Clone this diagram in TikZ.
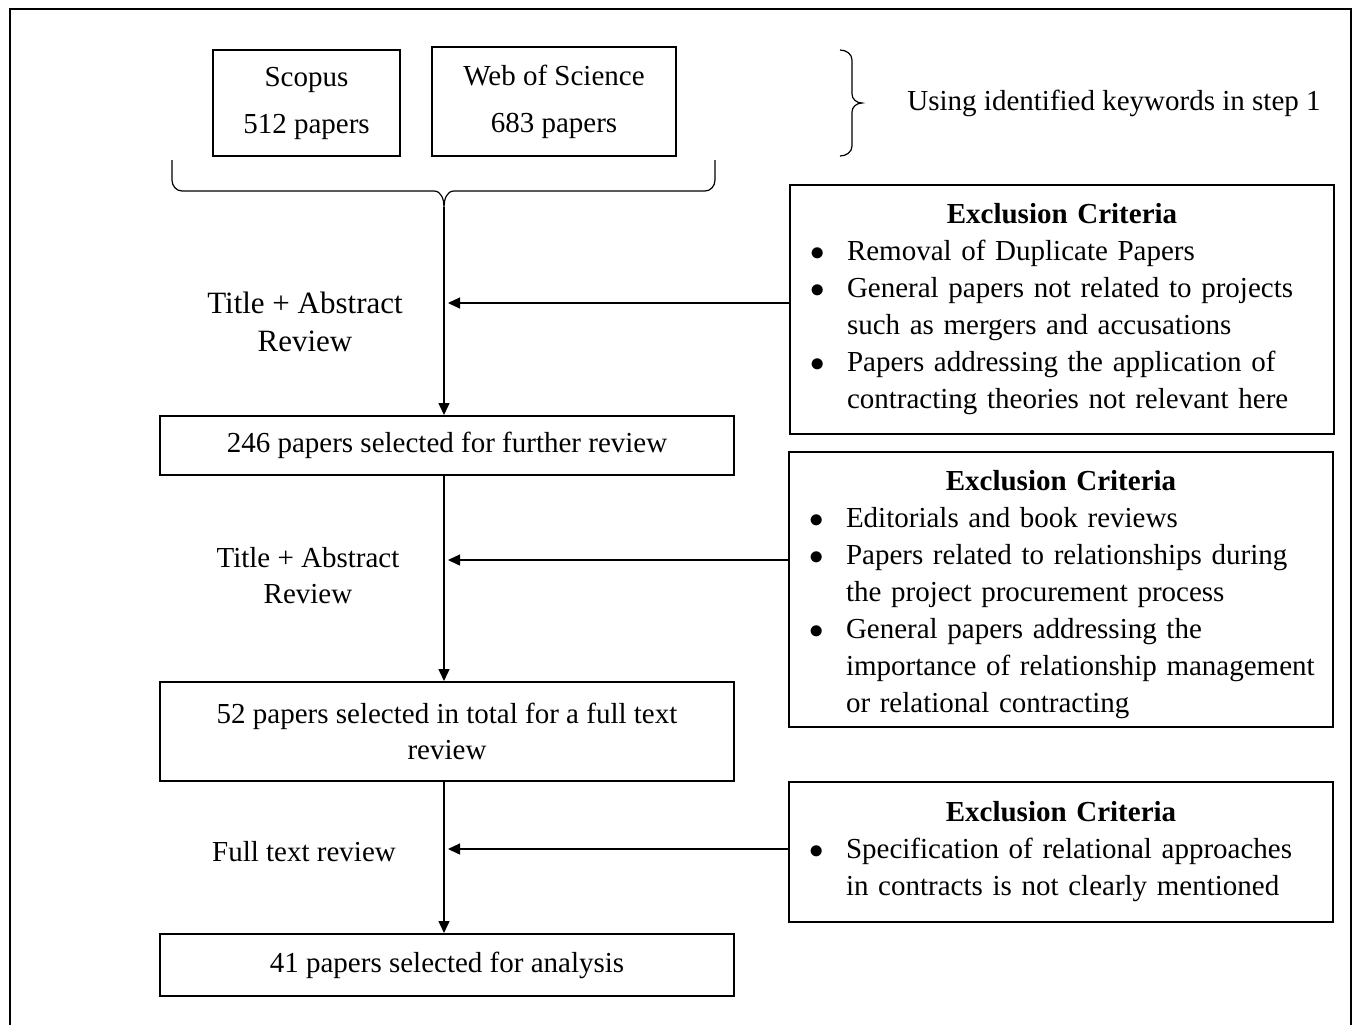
\documentclass[tikz,border=0pt]{standalone}
\usepackage{fontspec}
\setmainfont{Liberation Serif}
\usetikzlibrary{arrows.meta}

\newcommand{\crithead}{\centering\textbf{Exclusion Criteria}\par\raggedright}
\newcommand{\critem}[1]{\par\noindent\hangindent=24.5pt\hangafter=1\makebox[20pt][c]{$\bullet$}\hspace{4.5pt}#1}

\begin{document}
\begin{tikzpicture}[x=0.5pt, y=-0.5pt,
    box/.style={draw, line width=1pt, align=center, inner sep=0pt, font=\fontsize{14.5}{18}\selectfont},
    srcbox/.style={box, font=\fontsize{14.5}{23.5}\selectfont},
    critbox/.style={draw, line width=1pt, inner xsep=4pt, inner ysep=0pt, text width=264pt, minimum width=272pt, font=\fontsize{14.5}{18.5}\selectfont},
    lbl/.style={align=center, inner sep=0pt, font=\fontsize{14.5}{18}\selectfont},
    arr/.style={line width=0.7pt, -{Triangle[length=6pt, width=5.5pt]}},
    brc/.style={line width=0.6pt}]
    \useasboundingbox (0,0) rectangle (1356,1025);
    % ---- outer frame (open at the bottom) ----
    \draw[line width=1.4pt] (10,1025) -- (10,9) -- (1351,9) -- (1351,1025);
    % ---- databases ----
    \node[srcbox, minimum width=93.5pt, minimum height=53pt] (scopus) at (306.5,103) {Scopus\\512 papers};
    \node[srcbox, minimum width=122pt, minimum height=54.5pt] (wos) at (554,101.5) {Web of Science\\683 papers};
    \draw[brc] (840,50) to[out=0, in=90] (852,60) -- (852,94) to[out=-90, in=180] (862,103)
        to[out=180, in=90] (852,112) -- (852,146) to[out=-90, in=0] (840,156);
    \node[lbl] (keyw) at (1114,103) {Using identified keywords in step 1};
    % ---- brace joining both sources ----
    \coordinate (tip) at (444,207);
    \draw[brc] (172,160) -- (172,180) to[out=-90, in=180] (182,191) -- (434,191)
        to[out=0, in=90] (tip) to[out=90, in=180] (454,191) -- (705,191)
        to[out=0, in=-90] (715,180) -- (715,160);
    % ---- selection steps ----
    \node[box, minimum width=287pt, minimum height=29.5pt] (sel1) at (447,445.5) {246 papers selected for further review};
    \node[box, minimum width=287pt, minimum height=49.5pt] (sel2) at (447,731.5) {52 papers selected in total for a full text\\review};
    \node[box, minimum width=287pt, minimum height=31pt] (sel3) at (447,965) {41 papers selected for analysis};
    \node[lbl, font=\fontsize{15.5}{19}\selectfont] (rev1) at (305,322) {Title + Abstract\\Review};
    \node[lbl] (rev2) at (308,576) {Title + Abstract\\Review};
    \node[lbl] (rev3) at (304,852) {Full text review};
    % ---- exclusion criteria ----
    \node[critbox, minimum height=124.5pt] (crit1) at (1062,309.5) {\crithead
        \critem{Removal of Duplicate Papers}
        \critem{General papers not related to projects\newline such as mergers and accusations}
        \critem{Papers addressing the application of\newline contracting theories not relevant here}\par};
    \node[critbox, minimum height=137.5pt] (crit2) at (1061,589.5) {\rule{0pt}{15pt}\crithead
        \critem{Editorials and book reviews}
        \critem{Papers related to relationships during\newline the project procurement process}
        \critem{General papers addressing the\newline importance of relationship management\newline or relational contracting}\par};
    \node[critbox, minimum height=70pt] (crit3) at (1061,852) {\crithead
        \critem{Specification of relational approaches\newline in contracts is not clearly mentioned}\par};
    % ---- flow arrows ----
    \draw[arr] (tip) -- (tip |- sel1.north);
    \draw[arr] (sel1.south -| tip) -- (sel2.north -| tip);
    \draw[arr] (sel2.south -| tip) -- (sel3.north -| tip);
    \coordinate (in1) at (448,303);
    \coordinate (in2) at (448,560);
    \coordinate (in3) at (448,849);
    \draw[arr] (crit1.west |- in1) -- (in1);
    \draw[arr] (crit2.west |- in2) -- (in2);
    \draw[arr] (crit3.west |- in3) -- (in3);
\end{tikzpicture}
\end{document}
